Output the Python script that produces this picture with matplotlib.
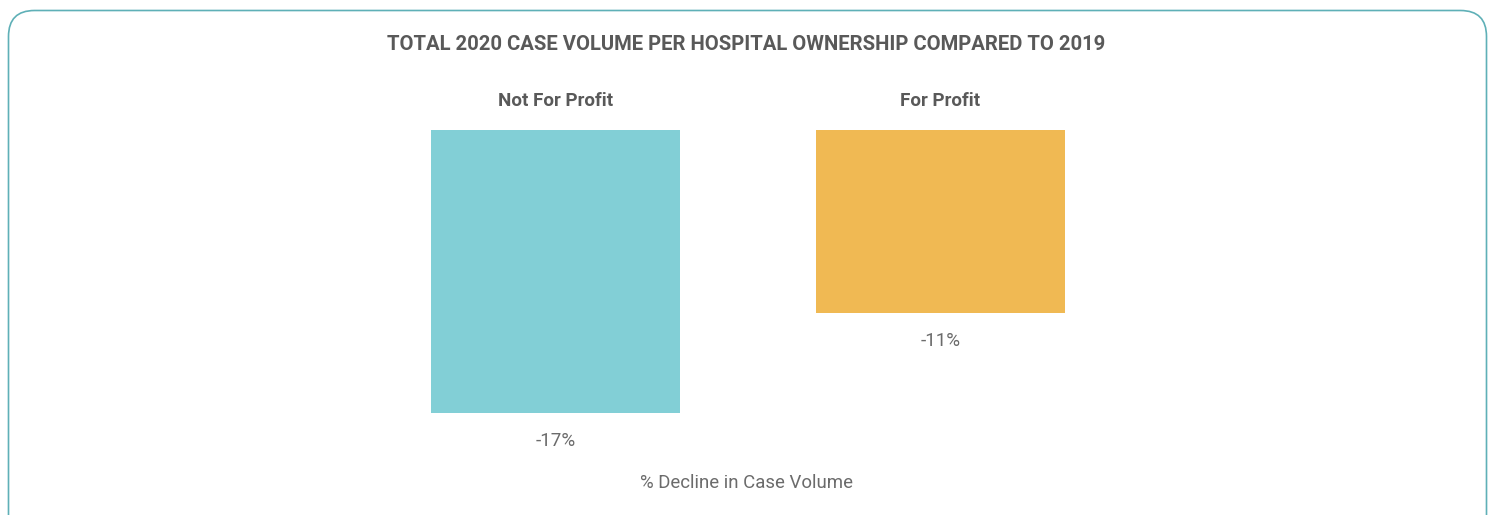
import matplotlib
matplotlib.use("Agg")
import matplotlib.pyplot as plt
from matplotlib.patches import FancyBboxPatch

# data
categories = ["Not For Profit", "For Profit"]
values = [-17, -11]
value_labels = ["-17%", "-11%"]
colors = ["#82cfd6", "#f0b953"]
title = "TOTAL 2020 CASE VOLUME PER HOSPITAL OWNERSHIP COMPARED TO 2019"
xlabel = "% Decline in Case Volume"

plt.rcParams['font.family'] = ['Roboto', 'DejaVu Sans']

W, H = 1492, 515
fig = plt.figure(figsize=(W / 100, H / 100), dpi=100)

# axes covering the whole figure, scaled so bars land where they should
ax = fig.add_axes([0, 0, 1, 1])
gap_px = 385.0       # distance between bar centres
first_px = 555.5     # centre of first bar
zero_px = 130.0      # y of zero line from top
unit_px = 16.65      # pixels per percent
ax.set_xlim(-first_px / gap_px, (W - first_px) / gap_px)
ax.set_ylim(-(H - zero_px) / unit_px, zero_px / unit_px)
ax.axis('off')

x = list(range(len(categories)))
ax.bar(x, values, width=249 / gap_px, color=colors, align='center')

for i, (cat, v, lab) in enumerate(zip(categories, values, value_labels)):
    ax.text(i, 29 / unit_px, cat, ha='center', va='center', fontsize=13.5,
            fontweight='bold', color='#595959')
    ax.text(i, v - 28 / unit_px, lab, ha='center', va='center', fontsize=13.5,
            color='#6b6b6b')

fig.text(0.5, 1 - 44 / H, title, ha='center', va='center', fontsize=14.6,
         fontweight='bold', color='#595959')
fig.text(0.5, 1 - 483 / H, xlabel, ha='center', va='center', fontsize=13.4,
         color='#6b6b6b')

# rounded border
border = FancyBboxPatch((8.5, -40), 1478, H - 10.5 + 40,
                        boxstyle="round,pad=0,rounding_size=26",
                        transform=None, fill=False, edgecolor='#5fb0b7',
                        linewidth=1.2)
fig.patches.append(border)

fig.savefig("out.png", dpi=100)
